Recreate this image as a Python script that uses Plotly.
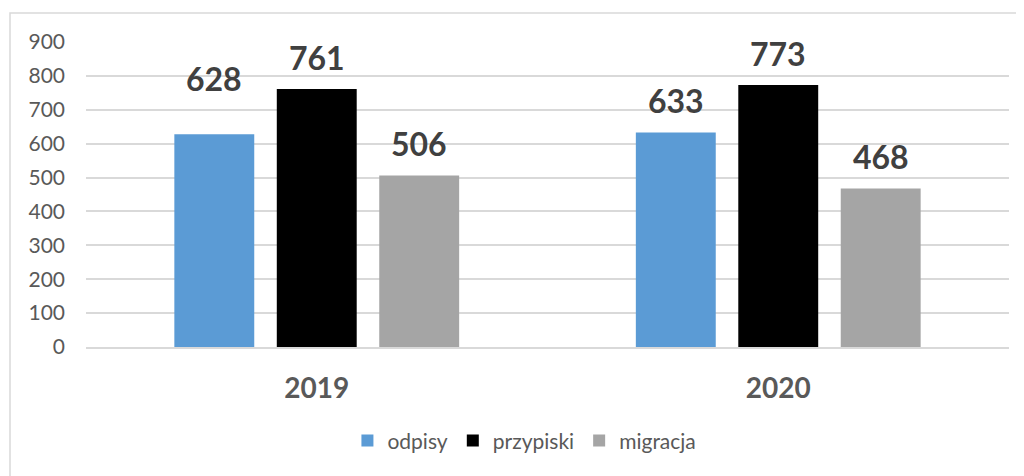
import plotly.graph_objects as go

years = ["2019", "2020"]
series_names = ["odpisy", "przypiski", "migracja"]
odpisy = [628, 633]
przypiski = [761, 773]
migracja = [506, 468]
colors = ["#5B9BD5", "#000000", "#A5A5A5"]

values = [odpisy, przypiski, migracja]

fig = go.Figure()
for name, vals, col in zip(series_names, values, colors):
    fig.add_trace(go.Bar(name=name, x=years, y=vals, marker_color=col,
                         marker_line_width=0))

# value labels, shifted to sit over each bar of the group
# (x given as category index: "2019" strings get read as index numbers)
shifts = [-102.5, 0, 102.5]
ann = []
for i, vals in enumerate(values):
    for j, v in enumerate(vals):
        lift = 56 if (i == 0 and j == 0) else 32
        ann.append(dict(x=j, y=v, xref="x", yref="y", text=str(v),
                        showarrow=False, xshift=shifts[i], yshift=lift,
                        font=dict(family="Lato", size=32, color="#404040",
                                  weight="bold")))

# page body has an 8px margin, so the figure is drawn 8px smaller/offset
fig.update_layout(
    width=1016, height=468,
    margin=dict(l=78, r=15, t=34, b=129),
    plot_bgcolor="white", paper_bgcolor="white",
    barmode="group", bargap=0.334, bargroupgap=0.22,
    font=dict(family="Lato", color="#595959"),
    annotations=ann,
    legend=dict(orientation="h", x=0.475, xanchor="center", y=-0.308,
                yanchor="middle", font=dict(size=21, color="#595959"),
                traceorder="normal"),
    shapes=[dict(type="rect", xref="paper", yref="paper",
                 x0=(10 - 86) / 923, x1=1.1, y0=-0.6, y1=(347 - 13) / 305,
                 line=dict(color="#D9D9D9", width=1.5), layer="below")],
)
fig.update_yaxes(range=[0, 900], dtick=100, showgrid=True, gridcolor="#D9D9D9",
                 gridwidth=1.5, zeroline=False, showline=False,
                 tickfont=dict(size=21, color="#595959"), ticklabelstandoff=20)
fig.update_xaxes(type="category", range=[-0.5, 1.5], showline=True,
                 linecolor="#D9D9D9", linewidth=1.5,
                 tickvals=years, ticktext=["<b>" + y + "</b>" for y in years],
                 tickfont=dict(size=28, color="#595959", weight="bold"),
                 ticklabelstandoff=16)

fig.write_html("out.html")
